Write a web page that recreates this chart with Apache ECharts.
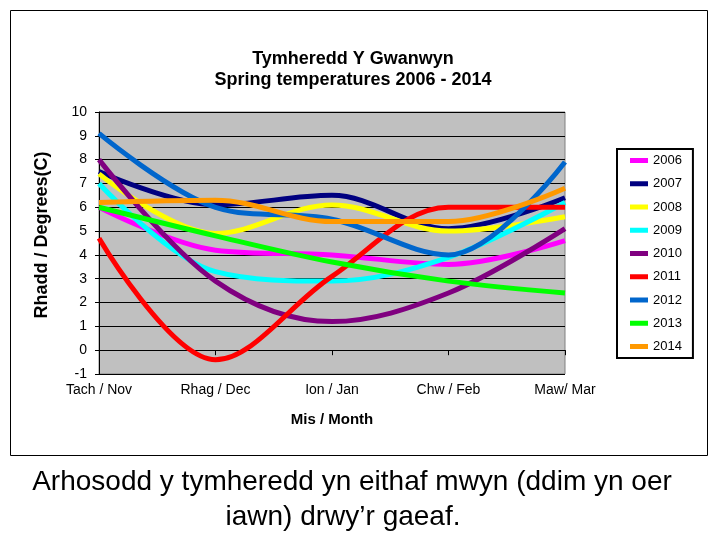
<!DOCTYPE html>
<html><head><meta charset="utf-8">
<script src="https://cdn.jsdelivr.net/npm/echarts@6/dist/echarts.min.js"></script>
<style>html,body{margin:0;padding:0;background:#fff}#c{width:720px;height:540px}</style>
</head><body><div id="c"></div>
<script>
const categories = ['Tach / Nov', 'Rhag / Dec', 'Ion / Jan', 'Chw / Feb', 'Maw/ Mar'];
const years = ['2006','2007','2008','2009','2010','2011','2012','2013','2014'];
const v2006 = [6.0, 4.2, 4.0, 3.6, 4.6];
const v2007 = [7.5, 6.1, 6.5, 5.1, 6.4];
const v2008 = [7.4, 4.9, 6.1, 5.0, 5.6];
const v2009 = [7.0, 3.3, 2.9, 3.9, 6.2];
const v2010 = [8.0, 2.9, 1.2, 2.4, 5.1];
const v2011 = [4.7, -0.4, 3.1, 6.0, 6.0];
const v2012 = [9.1, 6.0, 5.5, 4.0, 7.9];
const v2013 = [6.0, 4.8, 3.7, 2.9, 2.4];
const v2014 = [6.2, 6.3, 5.4, 5.4, 6.8];
const values = [v2006, v2007, v2008, v2009, v2010, v2011, v2012, v2013, v2014];
const colors = ['#FF00FF','#000080','#FFFF00','#00FFFF','#800080','#FF0000','#0066CC','#00FF00','#FF9900'];

const FONT = 'Liberation Sans, Arial, sans-serif';
const chart = echarts.init(document.getElementById('c'), null, {renderer:'canvas'});
chart.setOption({
  animation: false,
  backgroundColor: '#ffffff',
  textStyle: {fontFamily: FONT},
  title: {
    text: 'Tymheredd Y Gwanwyn\nSpring temperatures 2006 - 2014',
    left: 348, top: 44, textAlign: 'center',
    textStyle: {fontFamily: FONT, fontSize: 18, fontWeight: 'bold', color: '#000', lineHeight: 21}
  },
  legend: {
    orient: 'vertical', left: 617, top: 149,
    icon: 'rect', itemWidth: 18, itemHeight: 5, itemGap: 10.25,
    borderColor: '#000', borderWidth: 2, backgroundColor: '#fff',
    padding: [5, 11, 5, 13],
    textStyle: {fontFamily: FONT, fontSize: 13, color: '#000'},
    data: years
  },
  grid: {left: 99, right: 155, top: 112, bottom: 166, show: true,
    backgroundColor: '#C0C0C0', borderColor: '#808080', borderWidth: 1},
  xAxis: {
    type: 'category', boundaryGap: false, data: categories,
    axisLine: {lineStyle: {color: '#000', width: 1}},
    axisTick: {show: true, length: 5, lineStyle: {color: '#000'}},
    axisLabel: {fontFamily: FONT, fontSize: 14, color: '#000', margin: 9},
    name: 'Mis / Month', nameLocation: 'middle', nameGap: 38,
    nameTextStyle: {fontFamily: FONT, fontSize: 15, fontWeight: 'bold', color: '#000'}
  },
  yAxis: {
    type: 'value', min: -1, max: 10, interval: 1,
    axisLine: {show: true, lineStyle: {color: '#000', width: 1}},
    axisTick: {show: true, length: 4, lineStyle: {color: '#000'}},
    axisLabel: {fontFamily: FONT, fontSize: 14, color: '#000', margin: 12},
    splitLine: {show: true, lineStyle: {color: '#000', width: 1}},
    name: 'Rhadd / Degrees(C)', nameLocation: 'middle', nameGap: 48, nameRotate: 90,
    nameTextStyle: {fontFamily: FONT, fontSize: 18, fontWeight: 'bold', color: '#000', padding: [0, 0, 0, 16]}
  },
  graphic: [
    {type: 'rect', shape: {x: 10.5, y: 10.5, width: 697, height: 445}, style: {fill: 'none', stroke: '#000', lineWidth: 1}, z: -1},
    {type: 'text', x: 352, y: 482, style: {text: 'Arhosodd y tymheredd yn eithaf mwyn (ddim yn oer', font: '28px Liberation Sans, Arial, sans-serif', fill: '#000', align: 'center', verticalAlign: 'middle'}},
    {type: 'text', x: 343, y: 517, style: {text: 'iawn) drwy’r gaeaf.', font: '28px Liberation Sans, Arial, sans-serif', fill: '#000', align: 'center', verticalAlign: 'middle'}}
  ],
  series: years.map((y, i) => ({
    name: y, type: 'line', data: values[i], smooth: 0.35, showSymbol: false, symbol: 'none',
    lineStyle: {color: colors[i], width: 5}, itemStyle: {color: colors[i]}
  }))
});
</script></body></html>
